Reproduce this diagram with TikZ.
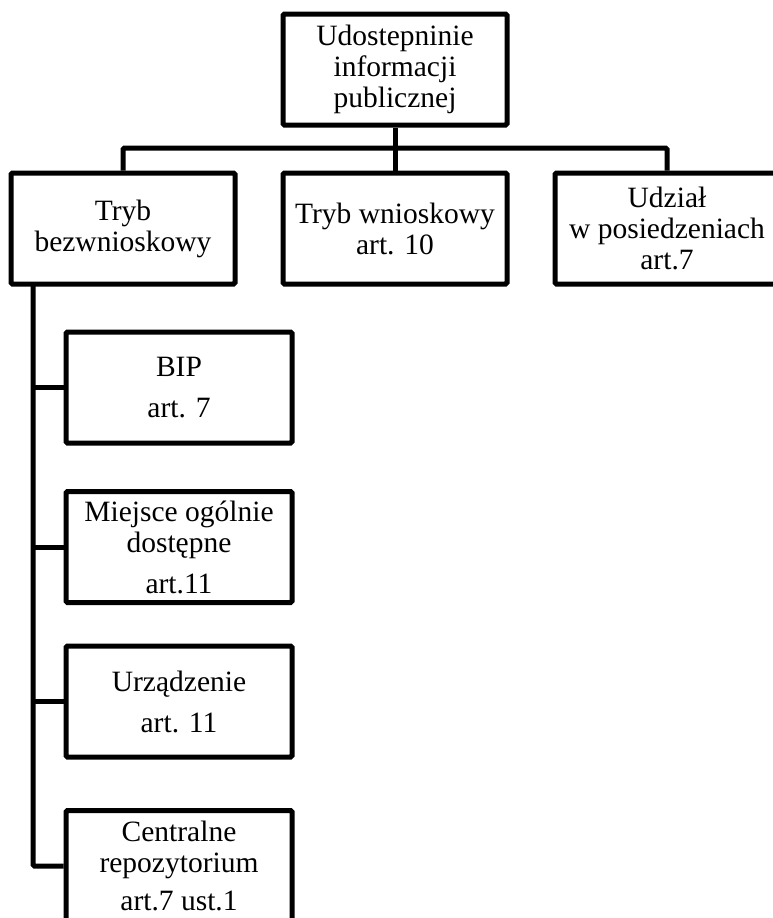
\documentclass[tikz,border=0pt]{standalone}
\usepackage{fontspec}
\setmainfont{Liberation Serif}
\usetikzlibrary{positioning}

\begin{document}
\begin{tikzpicture}[
    x=1pt, y=-1pt,
    orgbox/.style={draw, line width=5pt, rounded corners=1.5pt, minimum width=224pt, minimum height=111pt, inner sep=0pt, align=center, font=\fontsize{29.5}{31}\selectfont},
    link/.style={line width=5pt, rounded corners=1.5pt}
]
    \useasboundingbox (0,0) rectangle (773,918);

    % Root
    \node[orgbox] (root) at (395,69.5) {Udostepninie\\informacji\\publicznej};

    % First level
    \node[orgbox] (bezwn) at (123,228.5) {Tryb\\bezwnioskowy};
    \node[orgbox] (wniosk) at (395,228.5) {Tryb wnioskowy\\art. 10};
    \node[orgbox] (udzial) at (667,228.5) {Udział\\w posiedzeniach\\art.7};

    % Second level
    \node[orgbox, minimum width=226pt] (bip) at (179,387.5) {BIP\\[10pt]art. 7};
    \node[orgbox, minimum width=226pt] (miejsce) at (179,547) {Miejsce ogólnie\\dostępne\\[10pt]art.11};
    \node[orgbox, minimum width=226pt] (urzadz) at (179,701.5) {Urządzenie\\[10pt]art. 11};
    \node[orgbox, minimum width=226pt] (repo) at (179,866) {Centralne\\repozytorium\\[7pt]art.7 ust.1};

    % Connectors
    \coordinate (bus) at (395,148);
    \coordinate (trunk) at (33,285);
    \draw[link] (root) -- (wniosk);
    \draw[link] (bezwn.north) -- (bezwn.north |- bus) -| (udzial.north);
    \draw[link] (trunk) |- (repo.west);
    \foreach \child in {bip, miejsce, urzadz}
        \draw[link] (trunk |- \child.west) -- (\child.west);
\end{tikzpicture}
\end{document}
